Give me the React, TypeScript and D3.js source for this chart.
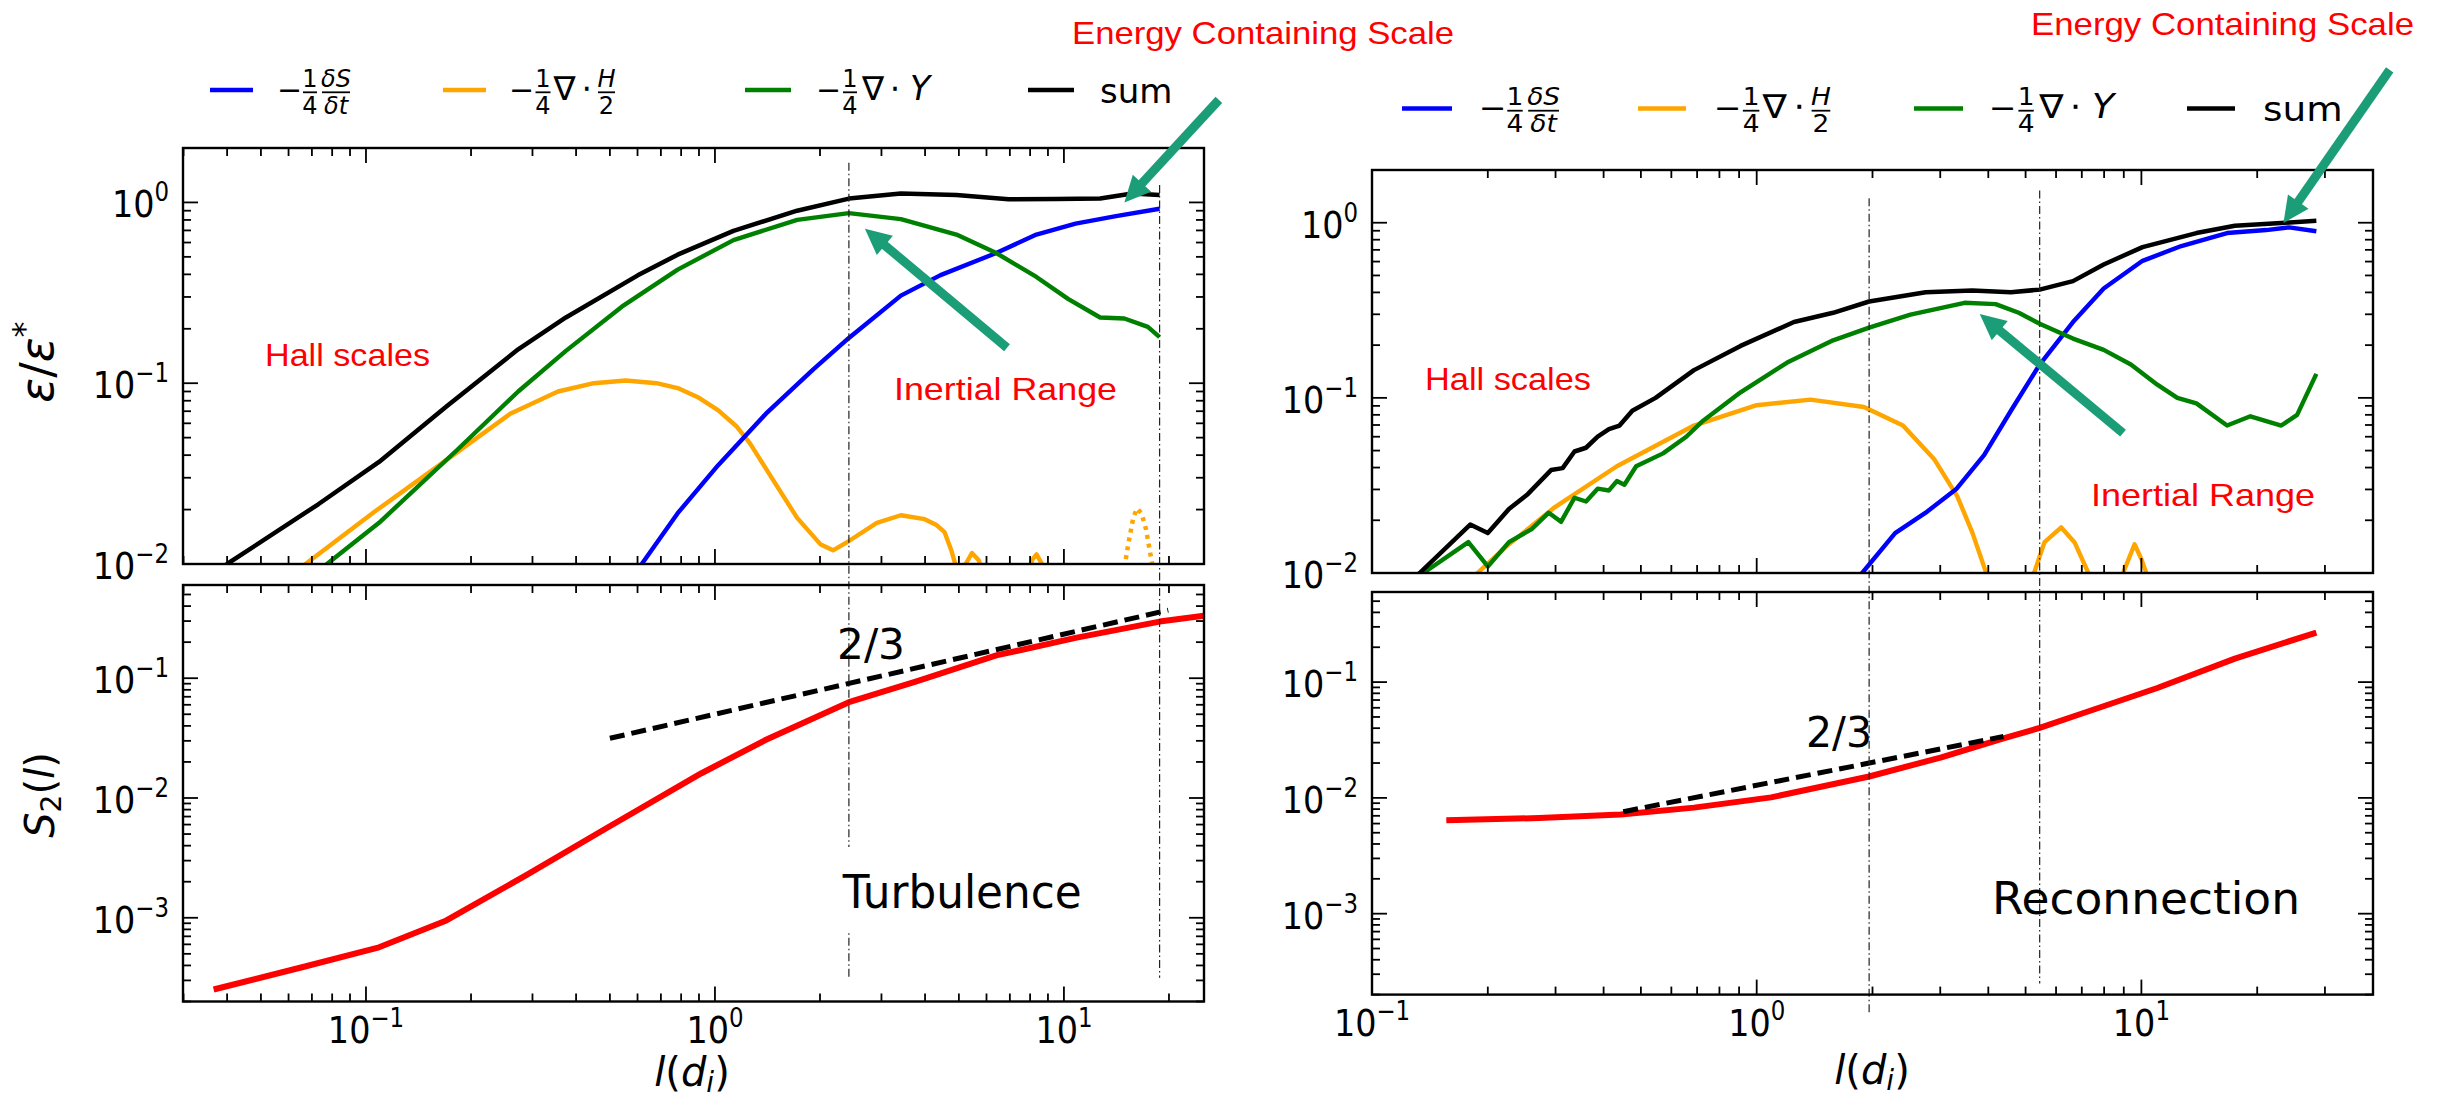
import React from 'react';
import * as d3 from 'd3';

type Pt = [number, number];

// ---------- turbulence run (left column) ----------
const turbDsdt: Pt[] = [
  [0.6, 0.0093], [0.617, 0.01], [0.782, 0.0191], [1.02, 0.0351], [1.4, 0.0678], [1.91, 0.119],
  [2.42, 0.178], [3.41, 0.305], [4.43, 0.396], [6.4, 0.525], [8.34, 0.664], [10.8, 0.764],
  [14.1, 0.84], [18.8, 0.923],
];
const turbDivH: (Pt | null)[] = [
  [0.062, 0.0085], [0.0671, 0.01], [0.106, 0.0195], [0.179, 0.0404], [0.259, 0.0677], [0.355, 0.09],
  [0.45, 0.1], [0.555, 0.1035], [0.68, 0.1], [0.782, 0.094], [0.9, 0.083], [1.02, 0.071],
  [1.15, 0.058], [1.26, 0.0465], [1.47, 0.029], [1.72, 0.018], [2.01, 0.0128], [2.18, 0.0119],
  [2.42, 0.0134], [2.91, 0.0169], [3.41, 0.0186], [3.99, 0.0177], [4.3, 0.0165], [4.55, 0.015],
  [4.75, 0.012], [4.92, 0.0095], [5.05, 0.008], [5.2, 0.0098], [5.45, 0.0115], [5.7, 0.0105],
  [5.9, 0.0085], null,
  [7.95, 0.0085], [8.1, 0.0105], [8.35, 0.0113], [8.7, 0.0098], [8.85, 0.0085],
];
const turbDivHDotted: Pt[] = [
  [14.9, 0.0095], [15.3, 0.013], [15.8, 0.018], [16.2, 0.0203], [16.7, 0.019], [17.2, 0.0155],
  [17.6, 0.012], [18.0, 0.0095],
];
const turbDivY: Pt[] = [
  [0.074, 0.0092], [0.0773, 0.01], [0.109, 0.0169], [0.184, 0.0434], [0.273, 0.09], [0.374, 0.151],
  [0.541, 0.265], [0.782, 0.425], [1.13, 0.619], [1.72, 0.8], [2.42, 0.873], [3.41, 0.809],
  [4.92, 0.664], [6.4, 0.525], [8.34, 0.387], [10.3, 0.292], [12.7, 0.231], [14.9, 0.228],
  [17.4, 0.205], [18.8, 0.18],
];
const turbSum: Pt[] = [
  [0.037, 0.009], [0.04, 0.01], [0.073, 0.0214], [0.109, 0.0367], [0.17, 0.0744], [0.273, 0.154],
  [0.374, 0.231], [0.601, 0.395], [0.782, 0.514], [1.13, 0.696], [1.72, 0.9], [2.42, 1.05],
  [3.41, 1.12], [4.92, 1.1], [6.94, 1.04], [9.5, 1.045], [12.7, 1.05], [15.7, 1.12], [18.8, 1.1],
];
const turbS2: Pt[] = [
  [0.0366, 2.52e-4], [0.066, 3.88e-4], [0.109, 5.67e-4], [0.17, 9.5e-4], [0.288, 2.27e-3],
  [0.487, 5.56e-3], [0.915, 0.0161], [1.39, 0.0303], [2.42, 0.0631], [3.78, 0.0942], [6.4, 0.155],
  [10.8, 0.217], [18.8, 0.297], [25.2, 0.333], [27, 0.34],
];
const turbSlope: Pt[] = [[0.5, 0.0315], [19.9, 0.37]];
const turbMarkers = [
  { l: 2.42, top: 1.66, bottom: 3.1e-4 },
  { l: 18.8, top: 1.25, bottom: 3.15e-4 },
];
const turbArrows: { from: Pt; to: Pt }[] = [
  { from: [27.8, 3.69], to: [14.9, 1.0] },
  { from: [6.87, 0.157], to: [2.69, 0.716] },
];

// ---------- reconnection run (right column) ----------
const recDsdt: Pt[] = [
  [1.85, 0.0093], [1.88, 0.01], [2.29, 0.0169], [2.75, 0.0221], [3.31, 0.0303], [3.9, 0.0471],
  [4.58, 0.0844], [5.44, 0.155], [6.64, 0.271], [7.98, 0.421], [10.07, 0.606], [12.7, 0.736],
  [16.7, 0.873], [21.1, 0.908], [24.2, 0.94], [28.5, 0.894],
];
const recDivH: (Pt | null)[] = [
  [0.18, 0.009], [0.188, 0.01], [0.227, 0.0146], [0.299, 0.0238], [0.433, 0.0407], [0.687, 0.0695],
  [1.0, 0.0908], [1.38, 0.0977], [1.9, 0.0887], [2.4, 0.0695], [2.89, 0.0448], [3.32, 0.0275],
  [3.64, 0.0169], [3.95, 0.01], [4.05, 0.008], null,
  [5.2, 0.008], [5.26, 0.01], [5.6, 0.015], [6.19, 0.0182], [6.7, 0.015], [7.28, 0.01], [7.4, 0.008], null,
  [8.9, 0.008], [8.96, 0.01], [9.6, 0.0146], [10.0, 0.012], [10.3, 0.01], [10.4, 0.008],
];
const recDivY: Pt[] = [
  [0.13, 0.009], [0.136, 0.01], [0.178, 0.015], [0.2, 0.0109], [0.227, 0.015], [0.26, 0.0178],
  [0.288, 0.0221], [0.31, 0.0196], [0.336, 0.0269], [0.36, 0.0256], [0.386, 0.0303], [0.413, 0.0296],
  [0.433, 0.0335], [0.453, 0.0319], [0.486, 0.0407], [0.571, 0.0482], [0.656, 0.06], [0.72, 0.073],
  [0.908, 0.1076], [1.2, 0.159], [1.58, 0.213], [1.96, 0.252], [2.51, 0.299], [3.47, 0.349],
  [4.18, 0.343], [4.8, 0.306], [5.44, 0.265], [6.64, 0.218], [7.98, 0.188], [9.39, 0.155],
  [11.0, 0.119], [12.4, 0.1], [13.9, 0.093], [16.7, 0.0695], [19.2, 0.0785], [23.1, 0.0695],
  [25.4, 0.08], [28.5, 0.137],
];
const recSum: Pt[] = [
  [0.128, 0.009], [0.133, 0.01], [0.18, 0.0189], [0.2, 0.0169], [0.227, 0.0232], [0.254, 0.0282],
  [0.292, 0.0387], [0.313, 0.0397], [0.336, 0.0494], [0.36, 0.0519], [0.386, 0.06], [0.413, 0.0662],
  [0.44, 0.0695], [0.475, 0.0844], [0.546, 0.1], [0.687, 0.144], [0.908, 0.198], [1.25, 0.271],
  [1.58, 0.306], [1.96, 0.355], [2.75, 0.401], [3.63, 0.41], [4.58, 0.401], [5.44, 0.415],
  [6.64, 0.464], [7.98, 0.577], [10.07, 0.726], [13.9, 0.873], [17.5, 0.962], [23.1, 0.996],
  [28.5, 1.025],
];
const recS2: Pt[] = [
  [0.156, 6.4e-3], [0.272, 6.7e-3], [0.443, 7.18e-3], [0.687, 8.24e-3], [1.09, 0.0101],
  [1.96, 0.0153], [3.02, 0.0224], [4.38, 0.0327], [5.44, 0.0402], [6.95, 0.053], [11.0, 0.0889],
  [17.5, 0.1596], [28.5, 0.268],
];
const recSlope: Pt[] = [[0.45, 0.0076], [4.38, 0.0339]];
const recMarkers = [
  { l: 1.96, top: 1.38, bottom: 1.38e-4 },
  { l: 5.44, top: 1.53, bottom: 2.5e-4 },
];
const recArrows: { from: Pt; to: Pt }[] = [
  { from: [44.2, 7.46], to: [23.4, 0.996] },
  { from: [8.96, 0.0629], to: [3.8, 0.301] },
];

// tick labels
const xTickLabels = [0.1, 1, 10];
const yTopTickLabels = [0.01, 0.1, 1];
const yBotTickLabels = [0.001, 0.01, 0.1];

const FONT = "'DejaVu Sans', Verdana, sans-serif";
const RED_FONT = "'Liberation Sans', Arial, sans-serif";
const TEAL = '#1b9e77';
const C = { dsdt: '#0000ff', divH: '#ffa500', divY: '#008000', sum: '#000000', s2: '#ff0000' };

type LogScale = d3.ScaleLogarithmic<number, number>;

const isMajor = (v: number) => Math.abs(Math.log10(v) - Math.round(Math.log10(v))) < 1e-6;
const expText = (v: number) => {
  const e = Math.round(Math.log10(v));
  return e < 0 ? `\u2212${-e}` : `${e}`;
};

function Frame({ x, y, xLabels, yLabels }: { x: LogScale; y: LogScale; xLabels?: number[]; yLabels: number[] }) {
  const [xa, xb] = x.range();
  const [yb, ya] = y.range();
  const xt = x.ticks().filter((v) => x(v) >= xa - 0.5 && x(v) <= xb + 0.5);
  const yt = y.ticks().filter((v) => y(v) <= yb + 0.5 && y(v) >= ya - 0.5);
  return (
    <g>
      <g stroke="#000" strokeWidth={1.8}>
        {xt.map((v, i) => {
          const p = x(v);
          const L = isMajor(v) ? 15 : 8;
          return (
            <g key={'x' + i}>
              <line x1={p} x2={p} y1={yb} y2={yb - L} />
              <line x1={p} x2={p} y1={ya} y2={ya + L} />
            </g>
          );
        })}
        {yt.map((v, i) => {
          const p = y(v);
          const L = isMajor(v) ? 15 : 8;
          return (
            <g key={'y' + i}>
              <line x1={xa} x2={xa + L} y1={p} y2={p} />
              <line x1={xb} x2={xb - L} y1={p} y2={p} />
            </g>
          );
        })}
      </g>
      <rect x={xa} y={ya} width={xb - xa} height={yb - ya} fill="none" stroke="#000" strokeWidth={2.4} />
      {(xLabels || []).map((v, i) => (
        <g key={'xl' + i} transform={`translate(${x(v)},${yb + 41.5}) scale(0.88,1)`}>
          <text textAnchor="middle" fontSize={38}>
            10<tspan dy={-16} fontSize={26}>{expText(v)}</tspan>
          </text>
        </g>
      ))}
      {yLabels.map((v, i) => (
        <g key={'yl' + i} transform={`translate(${xa - 14},${y(v) + 15}) scale(0.88,1)`}>
          <text textAnchor="end" fontSize={38}>
            10<tspan dy={-16} fontSize={26}>{expText(v)}</tspan>
          </text>
        </g>
      ))}
    </g>
  );
}

function Curve({ data, x, y, color, width, dash }: { data: (Pt | null)[]; x: LogScale; y: LogScale; color: string; width: number; dash?: string }) {
  const gen = d3
    .line<Pt | null>()
    .defined((d) => d !== null)
    .x((d) => x((d as Pt)[0]))
    .y((d) => y((d as Pt)[1]));
  return <path d={gen(data) || ''} fill="none" stroke={color} strokeWidth={width} strokeDasharray={dash} strokeLinejoin="round" />;
}

function Arrow({ from, to }: { from: Pt; to: Pt }) {
  const dx = to[0] - from[0];
  const dy = to[1] - from[1];
  const len = Math.hypot(dx, dy);
  const ux = dx / len;
  const uy = dy / len;
  const head = 26;
  const half = 12.5;
  const bx = to[0] - ux * head;
  const by = to[1] - uy * head;
  return (
    <g>
      <line x1={from[0]} y1={from[1]} x2={bx + ux * 3} y2={by + uy * 3} stroke={TEAL} strokeWidth={9} />
      <polygon fill={TEAL} points={`${to[0]},${to[1]} ${bx - uy * half},${by + ux * half} ${bx + uy * half},${by - ux * half}`} />
    </g>
  );
}

function Frac({ cx, w, num, den }: { cx: number; w: number; num: React.ReactNode; den: React.ReactNode }) {
  return (
    <g>
      <text x={cx} y={-3.3} textAnchor="middle" fontSize={24}>{num}</text>
      <line x1={cx - w / 2} x2={cx + w / 2} y1={2.3} y2={2.3} stroke="#000" strokeWidth={1.8} />
      <text x={cx} y={24} textAnchor="middle" fontSize={24}>{den}</text>
    </g>
  );
}

const Minus = () => <text x={-3} y={10} fontSize={30}>{'\u2212'}</text>;

function LegendLabel({ kind }: { kind: string }) {
  if (kind === 'dsdt')
    return (
      <g>
        <Minus />
        <Frac cx={30} w={14} num="1" den="4" />
        <Frac cx={56} w={28} num={<tspan fontStyle="italic">δS</tspan>} den={<tspan fontStyle="italic">δt</tspan>} />
      </g>
    );
  if (kind === 'divH')
    return (
      <g>
        <Minus />
        <Frac cx={31} w={15} num="1" den="4" />
        <text x={52.5} y={10} fontSize={33} textAnchor="middle">∇</text>
        <text x={74.7} y={10} fontSize={33} textAnchor="middle">⋅</text>
        <Frac cx={94.5} w={17} num={<tspan fontStyle="italic">H</tspan>} den="2" />
      </g>
    );
  if (kind === 'divY')
    return (
      <g>
        <Minus />
        <Frac cx={31} w={14} num="1" den="4" />
        <text x={54} y={10} fontSize={33} textAnchor="middle">∇</text>
        <text x={76} y={10} fontSize={33} textAnchor="middle">⋅</text>
        <text x={101} y={10} fontSize={33} textAnchor="middle" fontStyle="italic">Y</text>
      </g>
    );
  return <text x={0} y={12.7} fontSize={34}>sum</text>;
}

const legendKinds = ['dsdt', 'divH', 'divY', 'sum'] as const;

function Legend({ y, lines, labels, sx }: { y: number; lines: [number, number][]; labels: number[]; sx: number }) {
  return (
    <g>
      {legendKinds.map((k, i) => (
        <g key={k}>
          <line x1={lines[i][0]} x2={lines[i][1]} y1={y} y2={y} stroke={C[k]} strokeWidth={4.5} />
          <g transform={`translate(${labels[i]},${y}) scale(${sx},1)`}>
            <LegendLabel kind={k} />
          </g>
        </g>
      ))}
    </g>
  );
}

function Column({ id, x, yT, yB, dsdt, divH, divHDot, divY, sum, s2, slope, markers }: {
  id: string; x: LogScale; yT: LogScale; yB: LogScale; dsdt: Pt[]; divH: (Pt | null)[]; divHDot?: Pt[];
  divY: Pt[]; sum: Pt[]; s2: Pt[]; slope: Pt[]; markers: { l: number; top: number; bottom: number }[];
}) {
  const [xa, xb] = x.range();
  const [tb, ta] = yT.range();
  const [bb, ba] = yB.range();
  return (
    <g>
      <defs>
        <clipPath id={id + 't'}><rect x={xa} y={ta} width={xb - xa} height={tb - ta} /></clipPath>
        <clipPath id={id + 'b'}><rect x={xa} y={ba} width={xb - xa} height={bb - ba} /></clipPath>
      </defs>
      <g clipPath={`url(#${id}t)`}>
        <Curve data={divH} x={x} y={yT} color={C.divH} width={4.4} />
        {divHDot && <Curve data={divHDot} x={x} y={yT} color={C.divH} width={4.5} dash="4,5" />}
        <Curve data={dsdt} x={x} y={yT} color={C.dsdt} width={4.4} />
        <Curve data={divY} x={x} y={yT} color={C.divY} width={4.4} />
        <Curve data={sum} x={x} y={yT} color={C.sum} width={4.5} />
      </g>
      <g clipPath={`url(#${id}b)`}>
        <Curve data={s2} x={x} y={yB} color={C.s2} width={6} />
        <Curve data={slope} x={x} y={yB} color="#000" width={5} dash="15,7" />
      </g>
      {markers.map((m, i) => (
        <line key={i} x1={x(m.l)} x2={x(m.l)} y1={yT(m.top)} y2={yB(m.bottom)} stroke="#222" strokeWidth={1.2} strokeDasharray="8,3,1.5,3" />
      ))}
      <Frame x={x} y={yT} yLabels={yTopTickLabels} />
      <Frame x={x} y={yB} xLabels={xTickLabels} yLabels={yBotTickLabels} />
    </g>
  );
}

export default function App() {
  const xL = d3.scaleLog().domain([0.0299, 25.2]).range([183, 1204]);
  const xR = d3.scaleLog().domain([0.1, 40]).range([1372, 2373]);
  const yLT = d3.scaleLog().domain([0.01, 2]).range([564, 148]);
  const yLB = d3.scaleLog().domain([2e-4, 0.6]).range([1001.5, 585]);
  const yRT = d3.scaleLog().domain([0.01, 2]).range([573, 170]);
  const yRB = d3.scaleLog().domain([2e-4, 0.6]).range([994.6, 592]);

  return (
    <svg width={2443} height={1103} style={{ position: 'absolute', left: 0, top: 0, background: '#fff' }} fontFamily={FONT}>
      <rect width={2443} height={1103} fill="#fff" />
      <Column id="turb" x={xL} yT={yLT} yB={yLB} dsdt={turbDsdt} divH={turbDivH} divHDot={turbDivHDotted}
        divY={turbDivY} sum={turbSum} s2={turbS2} slope={turbSlope} markers={turbMarkers} />
      <Column id="rec" x={xR} yT={yRT} yB={yRB} dsdt={recDsdt} divH={recDivH}
        divY={recDivY} sum={recSum} s2={recS2} slope={recSlope} markers={recMarkers} />

      {/* black annotations */}
      <text x={837} y={658.5} fontSize={42} textLength={68} lengthAdjust="spacingAndGlyphs">2/3</text>
      <rect x={816} y={847} width={292} height={86} fill="#fff" />
      <text x={842.7} y={908.3} fontSize={47} textLength={239} lengthAdjust="spacingAndGlyphs">Turbulence</text>
      <text x={1806} y={747} fontSize={42} textLength={66} lengthAdjust="spacingAndGlyphs">2/3</text>
      <text x={1992} y={914} fontSize={44} textLength={308} lengthAdjust="spacingAndGlyphs">Reconnection</text>

      {/* red annotations */}
      <g fill="#ff0000" fontFamily={RED_FONT} fontSize={32}>
        <text x={1072} y={43.6} textLength={382} lengthAdjust="spacingAndGlyphs">Energy Containing Scale</text>
        <text x={2031} y={35} textLength={383} lengthAdjust="spacingAndGlyphs">Energy Containing Scale</text>
        <text x={265} y={365.5} textLength={165} lengthAdjust="spacingAndGlyphs">Hall scales</text>
        <text x={894} y={399.6} textLength={223} lengthAdjust="spacingAndGlyphs">Inertial Range</text>
        <text x={1425} y={390} textLength={166} lengthAdjust="spacingAndGlyphs">Hall scales</text>
        <text x={2091} y={506} textLength={224} lengthAdjust="spacingAndGlyphs">Inertial Range</text>
      </g>

      {turbArrows.map((a, i) => (
        <Arrow key={'ta' + i} from={[xL(a.from[0]), yLT(a.from[1])]} to={[xL(a.to[0]), yLT(a.to[1])]} />
      ))}
      {recArrows.map((a, i) => (
        <Arrow key={'ra' + i} from={[xR(a.from[0]), yRT(a.from[1])]} to={[xR(a.to[0]), yRT(a.to[1])]} />
      ))}

      {/* legends */}
      <Legend y={90} lines={[[210, 253], [443, 486], [745, 791], [1028, 1074]]} labels={[280, 512, 819, 1100]} sx={1} />
      <Legend y={108.4} lines={[[1402, 1452], [1638, 1686], [1914, 1963], [2187, 2235]]} labels={[1482, 1717, 1992, 2263]} sx={1.1} />

      {/* axis labels */}
      <text transform="translate(53,362) rotate(-90)" textAnchor="middle" fontSize={46}>
        <tspan fontStyle="italic">ε</tspan>/<tspan fontStyle="italic">ε</tspan><tspan dy={-18} fontSize={32}>*</tspan>
      </text>
      <text transform="translate(54,795) rotate(-90)" textAnchor="middle" fontSize={40}>
        <tspan fontStyle="italic">S</tspan><tspan dy={7} fontSize={28}>2</tspan><tspan dy={-7}>(</tspan><tspan fontStyle="italic">l</tspan>)
      </text>
      <text x={692} y={1086} textAnchor="middle" fontSize={40}>
        <tspan fontStyle="italic">l</tspan>(<tspan fontStyle="italic">d</tspan><tspan dy={6} fontSize={28} fontStyle="italic">i</tspan><tspan dy={-6}>)</tspan>
      </text>
      <text x={1872} y={1084} textAnchor="middle" fontSize={40}>
        <tspan fontStyle="italic">l</tspan>(<tspan fontStyle="italic">d</tspan><tspan dy={6} fontSize={28} fontStyle="italic">i</tspan><tspan dy={-6}>)</tspan>
      </text>
    </svg>
  );
}
